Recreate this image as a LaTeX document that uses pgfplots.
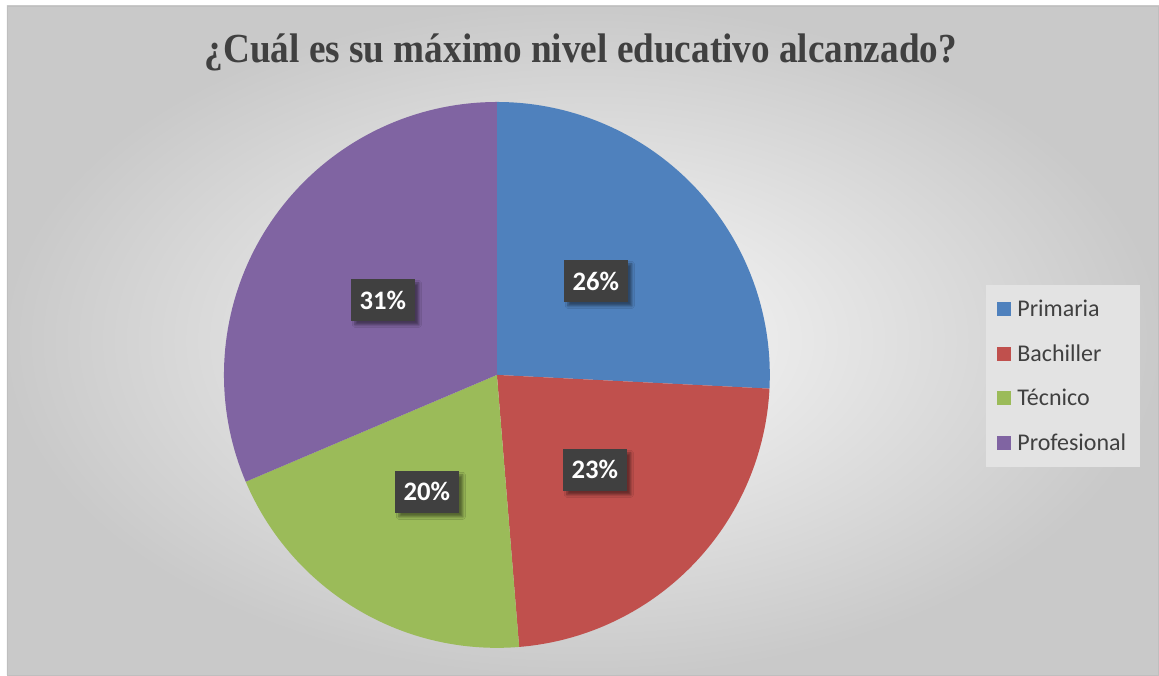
\documentclass[border=0pt]{standalone}
\usepackage{pgfplots}
\pgfplotsset{compat=1.18}
\usepackage{fontspec}
\setmainfont{Liberation Serif}
\newfontfamily\calibri{Carlito}
\usetikzlibrary{shadows.blur}

\definecolor{cPrim}{HTML}{4F81BD}
\definecolor{cBach}{HTML}{C0504D}
\definecolor{cTec}{HTML}{9BBB59}
\definecolor{cProf}{HTML}{8064A2}
\definecolor{txt}{HTML}{404040}
\definecolor{lbl}{HTML}{404040}

% shares (percent)
\def\pPrim{25.8}
\def\pBach{22.9}
\def\pTec{19.9}
\def\pProf{31.4}

\begin{document}
\begin{tikzpicture}
\pgfmathsetmacro{\aA}{90}
\pgfmathsetmacro{\aB}{\aA-3.6*\pPrim}
\pgfmathsetmacro{\aC}{\aB-3.6*\pBach}
\pgfmathsetmacro{\aD}{\aC-3.6*\pTec}
\pgfmathsetmacro{\aE}{\aD-3.6*\pProf}
\begin{axis}[
    x=0.75pt, y=0.75pt,
    xmin=0, xmax=1159, ymin=0, ymax=675,
    hide axis,
    clip=false,
    legend style={at={(axis cs:986,390)}, anchor=north west,
        fill=black!11, draw=none, font=\calibri\fontsize{18}{21}\selectfont,
        text=txt, inner xsep=8pt, inner ysep=9pt, row sep=15.5pt,
        /tikz/every odd column/.append style={column sep=3pt}},
    legend cell align=left,
    legend image code/.code={\fill[#1] (0pt,-5.25pt) rectangle (10.5pt,5.25pt);},
]
% background
\addplot[draw=none, fill=none, forget plot] coordinates {(0,0)};
\fill[white] (axis cs:0,0) rectangle (axis cs:1159,675);
\shade[inner color=white!98!black, outer color=black!21, draw=black!25]
    (axis cs:7,0) rectangle (axis cs:1159,669);

\addplot[draw=none, fill=cPrim, domain=\aA:\aB, samples=80]
    ({497+273*cos(x)},{300+273*sin(x)}) -- (axis cs:497,300) -- cycle;
\addlegendentry{Primaria}
\addplot[draw=none, fill=cBach, domain=\aB:\aC, samples=80]
    ({497+273*cos(x)},{300+273*sin(x)}) -- (axis cs:497,300) -- cycle;
\addlegendentry{Bachiller}
\addplot[draw=none, fill=cTec, domain=\aC:\aD, samples=80]
    ({497+273*cos(x)},{300+273*sin(x)}) -- (axis cs:497,300) -- cycle;
\addlegendentry{Técnico}
\addplot[draw=none, fill=cProf, domain=\aD:\aE, samples=80]
    ({497+273*cos(x)},{300+273*sin(x)}) -- (axis cs:497,300) -- cycle;
\addlegendentry{Profesional}

\tikzset{plab/.style={fill=lbl, text=white, font=\calibri\bfseries\fontsize{20}{22}\selectfont,
    minimum width=48pt, minimum height=31.5pt, inner sep=0pt,
    blur shadow={shadow xshift=3pt, shadow yshift=-3pt, shadow blur steps=6, shadow opacity=45}}}
\node[plab] at (axis cs:596,394) {26\%};
\node[plab] at (axis cs:595,205) {23\%};
\node[plab] at (axis cs:427,183) {20\%};
\node[plab] at (axis cs:383,375) {31\%};

\node[text=txt, font=\bfseries\fontsize{31}{34}\selectfont] at (axis cs:581,623)
    {\scalebox{0.9}[1]{¿Cuál es su máximo nivel educativo alcanzado?}};
\end{axis}
\end{tikzpicture}
\end{document}
